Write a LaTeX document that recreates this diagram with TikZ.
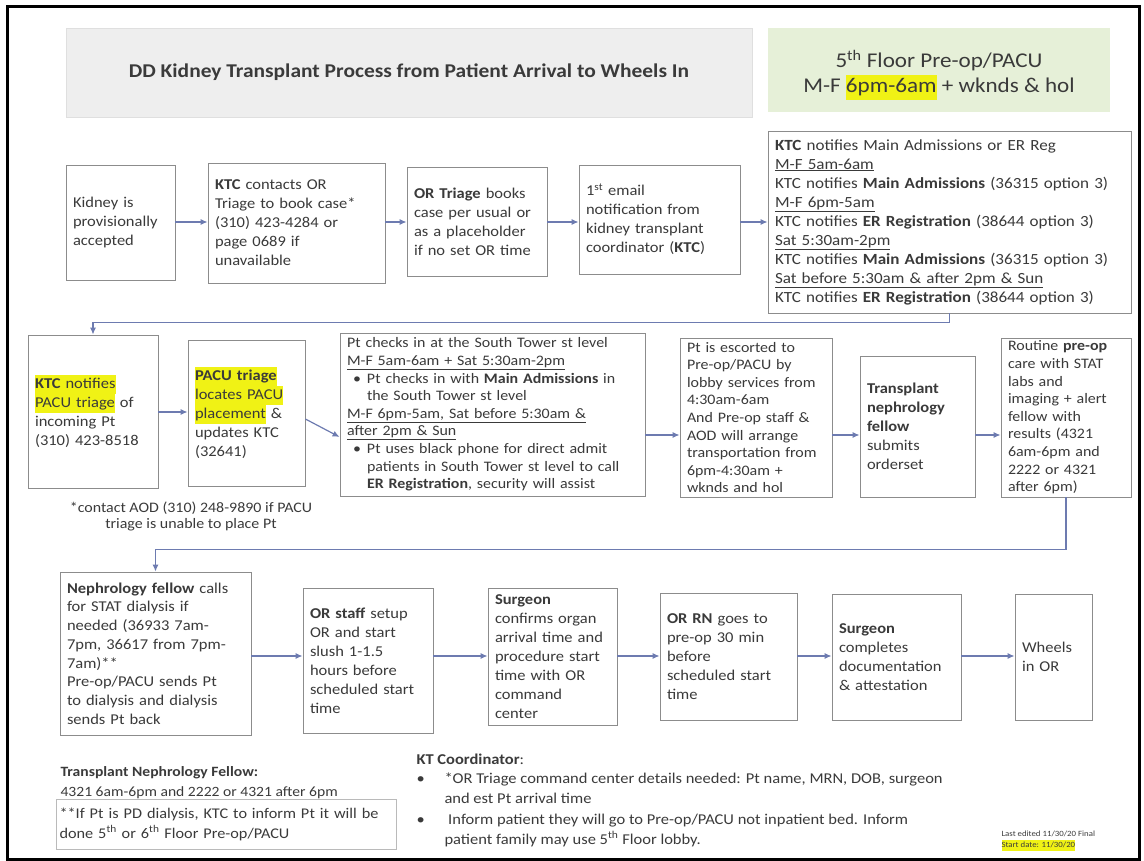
\documentclass[tikz,border=0pt]{standalone}
\usepackage{fontspec}
\setmainfont{Carlito}[FakeStretch=1.1]
\usetikzlibrary{arrows.meta}
\definecolor{txt}{HTML}{3A3A3A}
\definecolor{bord}{HTML}{8C8C8C}
\definecolor{arrc}{HTML}{6D7BB0}
\definecolor{hly}{HTML}{F0F215}
\definecolor{titlegray}{HTML}{EEEEEE}
\definecolor{greenbg}{HTML}{E6F0D8}
\newcommand{\HL}[1]{{\setlength{\fboxsep}{0pt}\colorbox{hly}{\strut #1}}}
\begin{document}
\begin{tikzpicture}[x=1pt,y=-1pt,
  every node/.style={text=txt},
  box/.style={draw=bord, line width=0.8pt, fill=white, inner xsep=7pt, inner ysep=3pt, align=left, font=\fontsize{15}{19}\selectfont},
  sbox/.style={box, font=\fontsize{14.5}{17.6}\selectfont},
  arr/.style={draw=arrc, line width=1.2pt, -{Latex[length=7pt,width=6pt]}},
  note/.style={align=left, font=\fontsize{14}{19.5}\selectfont}
]
\path[use as bounding box] (0,0) rectangle (1144,861);
\draw[line width=3pt, black] (7,7) rectangle (1139,859);

% header
\node[draw=gray!25, fill=titlegray, minimum width=686pt, minimum height=89pt,
  font=\fontsize{19.5}{24}\selectfont\bfseries] (title) at (409,72.5)
  {DD Kidney Transplant Process from Patient Arrival to Wheels In};
\node[fill=greenbg, minimum width=342pt, minimum height=84pt] (floor) at (939,70) {};
\node[align=center, font=\fontsize{21}{25}\selectfont] (floortxt) at (939,75)
  {5\textsuperscript{th} Floor Pre-op/PACU\\M-F \HL{6pm-6am} + wknds \& hol};

% row 1
\node[box, text width=95pt, minimum height=115pt] (k1) at (120.5,222.5)
  {Kidney is\\provisionally\\accepted};
\node[box, text width=163pt, minimum height=120pt] (k2) at (296.5,223)
  {\textbf{KTC} contacts OR\\Triage to book case*\\(310) 423-4284 or\\page 0689 if\\unavailable};
\node[box, text width=126pt, minimum height=109pt] (k3) at (477,221.5)
  {\textbf{OR Triage} books\\case per usual or\\as a placeholder\\if no set OR time};
\node[box, text width=147pt, minimum height=109pt] (k4) at (659.5,219.5)
  {1\textsuperscript{st} email\\notification from\\kidney transplant\\coordinator (\textbf{KTC})};
\node[box, text width=349pt, minimum height=182pt, font=\fontsize{15.5}{19}\selectfont] (k5) at (949.5,222)
  {\textbf{KTC} notifies Main Admissions or ER Reg\\
   \underline{M-F 5am-6am}\\
   KTC notifies \textbf{Main Admissions} (36315 option 3)\\
   \underline{M-F 6pm-5am}\\
   KTC notifies \textbf{ER Registration} (38644 option 3)\\
   \underline{Sat 5:30am-2pm}\\
   KTC notifies \textbf{Main Admissions} (36315 option 3)\\
   \underline{Sat before 5:30am \& after 2pm \& Sun}\\
   KTC notifies \textbf{ER Registration} (38644 option 3)};

% row 2
\node[box, text width=116pt, minimum height=153pt] (k6) at (93,411.5)
  {\HL{\textbf{KTC} notifies}\\\HL{PACU triage} of\\incoming Pt\\(310) 423-8518};
\node[box, text width=103pt, minimum height=146pt] (k7) at (246.5,413)
  {\HL{\textbf{PACU triage}}\\\HL{locates PACU}\\\HL{placement} \&\\updates KTC\\(32641)};
\node[sbox, text width=291pt, minimum height=163pt] (k8) at (492.5,414.5)
  {Pt checks in at the South Tower st level\\
   \underline{M-F 5am-6am + Sat 5:30am-2pm}\\
   \makebox[20pt][c]{\textbullet}Pt checks in with \textbf{Main Admissions} in\\
   \hspace*{20pt}the South Tower st level\\
   \underline{M-F 6pm-5am, Sat before 5:30am \&}\\
   \underline{after 2pm \& Sun}\\
   \makebox[20pt][c]{\textbullet}Pt uses black phone for direct admit\\
   \hspace*{20pt}patients in South Tower st level to call\\
   \hspace*{20pt}\textbf{ER Registration}, security will assist};
\node[sbox, text width=138pt, minimum height=159pt] (k9) at (756,417.5)
  {Pt is escorted to\\Pre-op/PACU by\\lobby services from\\4:30am-6am\\And Pre-op staff \&\\AOD will arrange\\transportation from\\6pm-4:30am +\\wknds and hol};
\node[box, text width=101pt, minimum height=141pt] (k10) at (917.5,426.5)
  {\textbf{Transplant}\\\textbf{nephrology}\\\textbf{fellow}\\submits\\orderset};
\node[sbox, text width=116pt, minimum height=159pt] (k11) at (1066,417.5)
  {Routine \textbf{pre-op}\\care with STAT\\labs and\\imaging + alert\\fellow with\\results (4321\\6am-6pm and\\2222 or 4321\\after 6pm)};

\node[font=\fontsize{14.5}{16}\selectfont, align=center] (aod) at (191,516)
  {*contact AOD (310) 248-9890 if PACU\\triage is unable to place Pt};

% row 3
\node[box, text width=177pt, minimum height=163pt, font=\fontsize{15}{18.7}\selectfont] (k12) at (155.5,653.5)
  {\textbf{Nephrology fellow} calls\\for STAT dialysis if\\needed (36933 7am-\\7pm, 36617 from 7pm-\\7am)**\\Pre-op/PACU sends Pt\\to dialysis and dialysis\\sends Pt back};
\node[box, text width=116pt, minimum height=145pt] (k13) at (368,660.5)
  {\textbf{OR staff} setup\\OR and start\\slush 1-1.5\\hours before\\scheduled start\\time};
\node[box, text width=115pt, minimum height=137pt] (k14) at (552.5,656.5)
  {\textbf{Surgeon}\\confirms organ\\arrival time and\\procedure start\\time with OR\\command\\center};
\node[box, text width=123pt, minimum height=127pt] (k15) at (728.5,656.5)
  {\textbf{OR RN} goes to\\pre-op 30 min\\before\\scheduled start\\time};
\node[box, text width=115pt, minimum height=126pt] (k16) at (896.5,657)
  {\textbf{Surgeon}\\completes\\documentation\\\& attestation};
\node[box, text width=63pt, minimum height=126pt] (k17) at (1053.5,657)
  {Wheels\\in OR};

% bottom notes
\node[note, anchor=north west, font=\fontsize{14.2}{19.5}\selectfont] (tnf) at (57,763)
  {\textbf{Transplant Nephrology Fellow:}\\4321 6am-6pm and 2222 or 4321 after 6pm};
\node[note, draw=bord!60, anchor=north west, text width=333pt, minimum height=50pt,
  font=\fontsize{14.8}{19.5}\selectfont] (pd) at (56,799)
  {**If Pt is PD dialysis, KTC to inform Pt it will be\\done 5\textsuperscript{th} or 6\textsuperscript{th} Floor Pre-op/PACU};
\node[note, anchor=north west, font=\fontsize{15}{19.5}\selectfont] (ktc) at (413,750)
  {\textbf{KT Coordinator}:\\
   \makebox[28pt][l]{\textbullet}*OR Triage command center details needed: Pt name, MRN, DOB, surgeon\\
   \hspace*{28pt}and est Pt arrival time\\[2pt]
   \makebox[28pt][l]{\textbullet} Inform patient they will go to Pre-op/PACU not inpatient bed. Inform\\
   \hspace*{28pt}patient family may use 5\textsuperscript{th} Floor lobby.};
\node[align=left, anchor=west, font=\fontsize{8}{11}\selectfont] (dates) at (998,841)
  {Last edited 11/30/20 Final\\\HL{Start date: 11/30/20}};

% connectors
\coordinate (y1) at (0,222);
\coordinate (y2a) at (0,412);
\coordinate (y2b) at (0,435);
\coordinate (d1) at (0,419);
\coordinate (d2) at (0,437);
\coordinate (y3) at (0,656);
\draw[arr] (k1.east |- y1) -- (k2.west |- y1);
\draw[arr] (k2.east |- y1) -- (k3.west |- y1);
\draw[arr] (k3.east |- y1) -- (k4.west |- y1);
\draw[arr] (k4.east |- y1) -- (k5.west |- y1);
\draw[arr] (k5.south) -- ++(0,9) -| (k6.north);
\draw[arr] (k6.east |- y2a) -- (k7.west |- y2a);
\draw[arr] (k7.east |- d1) -- (k8.west |- d2);
\draw[arr] (k8.east |- y2b) -- (k9.west |- y2b);
\draw[arr] (k9.east |- y2b) -- (k10.west |- y2b);
\draw[arr] (k10.east |- y2b) -- (k11.west |- y2b);
\draw[arr] (k11.south) -- ++(0,52) -| (k12.north);
\draw[arr] (k12.east |- y3) -- (k13.west |- y3);
\draw[arr] (k13.east |- y3) -- (k14.west |- y3);
\draw[arr] (k14.east |- y3) -- (k15.west |- y3);
\draw[arr] (k15.east |- y3) -- (k16.west |- y3);
\draw[arr] (k16.east |- y3) -- (k17.west |- y3);
\end{tikzpicture}
\end{document}
